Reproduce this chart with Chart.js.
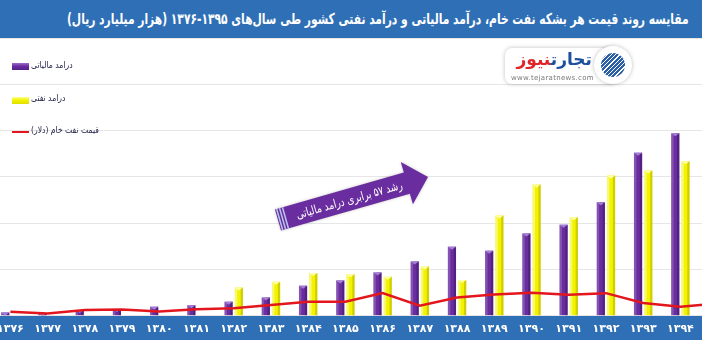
<!DOCTYPE html>
<html lang="fa">
<head>
<meta charset="UTF-8">
<title>درآمد مالیاتی و نفتی</title>
<script src="https://cdn.jsdelivr.net/npm/chart.js"></script>
<style>
    body {
        margin: 0;
        width: 702px;
        height: 340px;
        overflow: hidden;
        position: relative;
        background: #fff;
        font-family: "DejaVu Sans", sans-serif;
    }
    #chart {
        position: absolute;
        left: -10px;
        top: 0;
    }
    #title {
        position: absolute;
        left: 0; top: 0;
        width: 702px; height: 38px;
        background: #2f6fb6;
    }
    #title span {
        position: absolute;
        right: 13px; top: 0;
        color: #fff;
        font-weight: bold;
        font-size: 15px;
        line-height: 38px;
        direction: rtl;
        white-space: nowrap;
        transform-origin: right center;
    }
    .leg-box {
        position: absolute;
        left: 12px;
        width: 17px;
    }
    .leg-text {
        position: absolute;
        left: 31px;
        font-size: 9px;
        color: #25254a;
        direction: rtl;
        white-space: nowrap;
        transform-origin: left center;
        transform: scaleX(0.85);
    }
    #logo {
        position: absolute;
        left: 505px; top: 48px;
        width: 112px; height: 36px;
        background: #fff;
        border-radius: 7px;
        box-shadow: 0 0 4px rgba(0,0,0,0.25);
    }
    #logo .name {
        position: absolute;
        right: 25px; top: 1px;
        font-size: 17px;
        font-weight: bold;
        direction: rtl;
        white-space: nowrap;
    }
    #logo .url {
        position: absolute;
        left: 6px; top: 26px;
        font-size: 7px;
        color: #777;
        letter-spacing: 0.3px;
    }
    #badge {
        position: absolute;
        left: 594px; top: 46px;
        width: 38px; height: 38px;
        border-radius: 50%;
        background: #fff;
        box-shadow: 0 0 4px rgba(0,0,0,0.25);
    }
    #badge div {
        position: absolute;
        left: 7px; top: 7px;
        width: 24px; height: 24px;
        border-radius: 50%;
        background: repeating-linear-gradient(135deg, #2b5fa8 0 2px, #ffffff 2px 3px);
    }
</style>
</head>
<body>
<canvas id="chart" width="748" height="340"></canvas>
<div id="title"><span id="titleText">مقایسه روند قیمت هر بشکه نفت خام، درآمد مالیاتی و درآمد نفتی کشور طی سال‌های ۱۳۹۵-۱۳۷۶ (هزار میلیارد ریال)</span></div>

<div class="leg-box" style="top:63px;height:7px;background:linear-gradient(#9a6ccc,#6a2d9f 45%,#55208a);"></div>
<div class="leg-text" style="top:60px;">درامد مالیاتی</div>
<div class="leg-box" style="top:97px;height:7px;background:linear-gradient(#ffff90,#f3f300 45%,#dede00);"></div>
<div class="leg-text" style="top:93px;">درامد نفتی</div>
<div class="leg-box" style="top:131px;height:2px;background:#e3161d;"></div>
<div class="leg-text" style="top:125px;">قیمت نفت خام (دلار)</div>

<div id="logo">
    <div class="name"><span style="color:#1d4f9c">تجارت</span><span style="color:#e0262b">نیوز</span></div>
    <div class="url">www.tejaratnews.com</div>
</div>
<div id="badge"><div></div></div>

<script>
    // سال‌ها و مقادیر (هزار میلیارد ریال، قیمت نفت به دلار)
    const years = ['۱۳۷۶', '۱۳۷۷', '۱۳۷۸', '۱۳۷۹', '۱۳۸۰', '۱۳۸۱', '۱۳۸۲', '۱۳۸۳', '۱۳۸۴', '۱۳۸۵',
                   '۱۳۸۶', '۱۳۸۷', '۱۳۸۸', '۱۳۸۹', '۱۳۹۰', '۱۳۹۱', '۱۳۹۲', '۱۳۹۳', '۱۳۹۴', '۱۳۹۵'];
    const taxRevenue = [14, 12, 25, 29, 39, 46, 61, 79, 130, 152, 187, 235, 298, 281, 356, 393, 490, 704, 789, null];
    const oilRevenue = [null, null, null, null, null, null, 122, 147, 185, 180, 169, 213, 155, 433, 567, 426, 606, 628, 668, null];
    const oilPrice = [19, 11, 27, 30, 20, 31, 35, 50, 66, 66, 106, 47, 86, 100, 108, 98, 106, 60, 42, 58];

    const blue = '#2f6fb6';

    // عنوان را در عرض نوار جا بده (فشرده‌سازی افقی)
    const titleEl = document.getElementById('titleText');
    titleEl.style.transform = 'scaleX(' + (622 / titleEl.offsetWidth).toFixed(3) + ')';

    // نوار آبی زیر محور افقی
    const bandPlugin = {
        id: 'band',
        beforeDraw(chart) {
            const { ctx, chartArea } = chart;
            ctx.save();
            ctx.fillStyle = blue;
            ctx.fillRect(0, chartArea.bottom, chart.width, chart.height - chartArea.bottom);
            ctx.restore();
        }
    };

    // سایه‌روشن ستون‌ها (حالت سه‌بعدی)
    const shadePlugin = {
        id: 'shade',
        afterDatasetDraw(chart, args) {
            if (args.index > 1) return;
            const ctx = chart.ctx;
            const values = chart.data.datasets[args.index].data;
            const light = args.index === 0 ? 'rgba(255,255,255,0.18)' : 'rgba(255,255,255,0.45)';
            const dark = args.index === 0 ? 'rgba(30,0,60,0.30)' : 'rgba(120,110,0,0.28)';
            const cap = args.index === 0 ? '#a47ed6' : '#ffffa8';
            ctx.save();
            args.meta.data.forEach((bar, i) => {
                if (values[i] == null) return;
                const { x, y, base, width } = bar.getProps(['x', 'y', 'base', 'width'], true);
                const l = x - width / 2;
                ctx.fillStyle = light;
                ctx.fillRect(l, y, width * 0.3, base - y);
                ctx.fillStyle = dark;
                ctx.fillRect(l + width * 0.72, y, width * 0.28, base - y);
                ctx.fillStyle = cap;
                ctx.beginPath();
                ctx.moveTo(l, y);
                ctx.lineTo(l + width, y);
                ctx.lineTo(x, y + 3);
                ctx.closePath();
                ctx.fill();
            });
            ctx.restore();
        }
    };

    // فلش «رشد ۵۷ برابری»
    const arrowPlugin = {
        id: 'arrow',
        afterDraw(chart) {
            const ctx = chart.ctx;
            const x0 = 288, y0 = 220, x1 = 438, y1 = 177;
            const len = Math.hypot(x1 - x0, y1 - y0);
            const ang = Math.atan2(y1 - y0, x1 - x0);
            const hw = 11, headW = 22, headL = 22;
            ctx.save();
            ctx.translate(x0, y0);
            ctx.rotate(ang);
            ctx.shadowColor = 'rgba(0,0,0,0.25)';
            ctx.shadowBlur = 3;
            ctx.fillStyle = '#6a2d9f';
            ctx.beginPath();
            ctx.moveTo(0, -hw);
            ctx.lineTo(len - headL, -hw);
            ctx.lineTo(len - headL, -headW);
            ctx.lineTo(len, 0);
            ctx.lineTo(len - headL, headW);
            ctx.lineTo(len - headL, hw);
            ctx.lineTo(0, hw);
            ctx.closePath();
            ctx.fill();
            ctx.shadowBlur = 0;
            ctx.fillStyle = '#b8c6ee';
            for (let i = 0; i < 3; i++) ctx.fillRect(1 + i * 3, -hw, 1.5, hw * 2);

            const label = 'رشد ۵۷ برابری درامد مالیاتی';
            ctx.fillStyle = '#fff';
            ctx.font = '12px "DejaVu Sans"';
            ctx.direction = 'rtl';
            ctx.textAlign = 'center';
            ctx.textBaseline = 'middle';
            const sx = 110 / ctx.measureText(label).width;
            ctx.translate(74, 1);
            ctx.scale(sx, 1);
            ctx.fillText(label, 0, 0);
            ctx.restore();
        }
    };

    const ctx = document.getElementById('chart').getContext('2d');
    const chart = new Chart(ctx, {
        type: 'bar',
        data: {
            labels: years,
            datasets: [
                {
                    label: 'درامد مالیاتی',
                    data: taxRevenue,
                    backgroundColor: '#6a2d9f',
                    categoryPercentage: 0.55,
                    barPercentage: 0.8,
                    order: 1
                },
                {
                    label: 'درامد نفتی',
                    data: oilRevenue,
                    backgroundColor: '#f3f300',
                    categoryPercentage: 0.55,
                    barPercentage: 0.8,
                    order: 1
                },
                {
                    type: 'line',
                    label: 'قیمت نفت خام (دلار)',
                    data: oilPrice,
                    borderColor: '#e3161d',
                    borderWidth: 2.5,
                    pointRadius: 0,
                    tension: 0,
                    yAxisID: 'y2',
                    order: 0
                }
            ]
        },
        options: {
            responsive: false,
            animation: false,
            layout: { padding: { top: 38, bottom: -3, left: 0, right: 0 } },
            plugins: {
                legend: { display: false },
                tooltip: { enabled: false }
            },
            scales: {
                x: {
                    offset: true,
                    grid: { display: false, drawTicks: false },
                    border: { display: false },
                    ticks: {
                        color: '#fff',
                        padding: 7,
                        maxRotation: 0,
                        autoSkip: false,
                        font: { family: 'DejaVu Sans', size: 11, weight: 'bold' }
                    }
                },
                y: {
                    min: 0,
                    max: 1200,
                    grid: { color: '#e6e6e6', drawTicks: false },
                    border: { display: false },
                    ticks: { display: false, stepSize: 200 }
                },
                y2: {
                    display: false,
                    min: 0,
                    max: 1300
                }
            }
        },
        plugins: [bandPlugin, shadePlugin, arrowPlugin]
    });
</script>
</body>
</html>
